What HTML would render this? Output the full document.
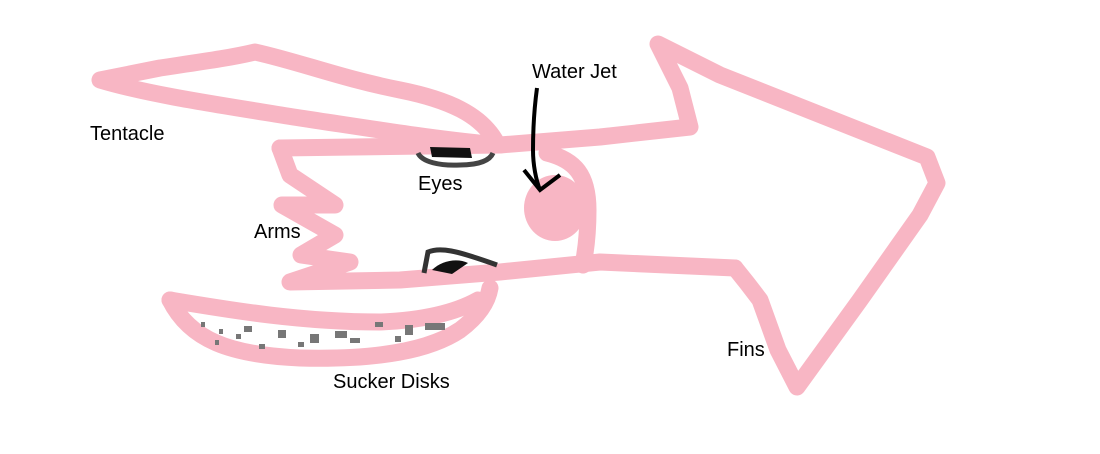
<!DOCTYPE html>
<html><head><meta charset="utf-8"><style>
html,body{margin:0;padding:0;background:#fff;}
svg{display:block}
text{font-family:"Liberation Sans",sans-serif;font-size:20px;fill:#000}
</style></head><body>
<svg width="1100" height="454" viewBox="0 0 1100 454" xmlns="http://www.w3.org/2000/svg">
<g fill="none" stroke="#f8b6c4" stroke-width="17" stroke-linecap="round" stroke-linejoin="round">
<path d="M495,140 C480,115 450,100 400,90 C340,78 300,62 255,52 C230,58 200,62 160,68 L100,80 C150,95 220,105 300,118 C380,130 440,140 500,145"/>
<path d="M280,148 L500,145 L600,137 L690,127 L680,88 L658,44 L720,75 L927,157 L937,183 L920,215 L860,300 L797,387 L778,350 L760,300 L747,283 L735,268"/>
<path d="M280,148 L290,175 L335,205 L282,205 L335,235 L301,255 L350,262 L290,282 L400,280 L500,272 L600,262 L735,268"/>
<path d="M547,153 C575,160 588,175 588,210 C588,235 586,250 583,265"/>
<path d="M170,300 C190,340 230,355 300,358 C380,360 430,350 460,330 C480,315 488,300 490,288"/>
<path d="M170,300 C230,310 300,322 380,322 C430,320 460,310 478,300"/>
</g>
<ellipse cx="555" cy="208" rx="31" ry="33" fill="#f8b6c4"/>
<path d="M430,147 L470,148 L472,158 L432,157 Z" fill="#111"/>
<path d="M418,153 C422,162 440,166 460,165 C480,165 490,160 493,153" fill="none" stroke="#444" stroke-width="5"/>
<path d="M424,273 L428,252 C440,247 455,250 497,265" fill="none" stroke="#333" stroke-width="5"/>
<path d="M432,270 C442,260 458,258 468,263 L452,274 Z" fill="#111"/>
<path d="M537,88 C534,110 533,130 533,150 C533,165 536,180 540,190 M524,170 L540,190 L560,175" fill="none" stroke="#000" stroke-width="4"/>
<g fill="#777">
<rect x="201" y="322" width="4" height="5"/><rect x="219" y="329" width="4" height="5"/><rect x="244" y="326" width="8" height="6"/>
<rect x="259" y="344" width="6" height="5"/><rect x="278" y="330" width="8" height="8"/><rect x="298" y="342" width="6" height="5"/>
<rect x="310" y="334" width="9" height="9"/><rect x="335" y="331" width="12" height="7"/><rect x="350" y="338" width="10" height="5"/>
<rect x="375" y="322" width="8" height="5"/><rect x="395" y="336" width="6" height="6"/><rect x="405" y="325" width="8" height="10"/>
<rect x="425" y="323" width="20" height="7"/><rect x="215" y="340" width="4" height="5"/><rect x="236" y="334" width="5" height="5"/>
</g>
<text x="90" y="140">Tentacle</text>
<text x="532" y="78">Water Jet</text>
<text x="418" y="190">Eyes</text>
<text x="254" y="238">Arms</text>
<text x="333" y="388">Sucker Disks</text>
<text x="727" y="356">Fins</text>
</svg>
</body></html>
